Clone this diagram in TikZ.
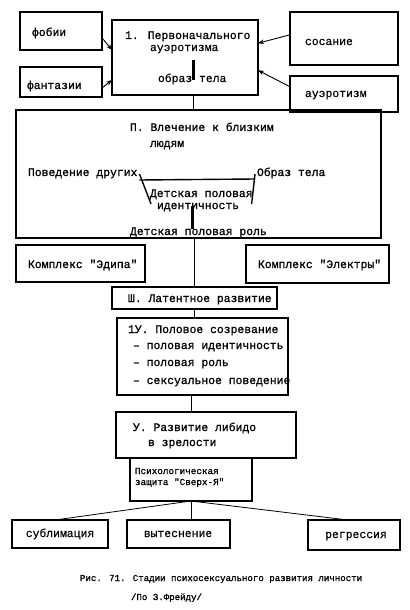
\documentclass[tikz,border=0pt]{standalone}
\usepackage{fontspec}
\newfontfamily\tw[FakeBold=1]{Liberation Mono}
\newfontfamily\twl[FakeBold=0.3]{Liberation Mono}
\usetikzlibrary{calc,arrows.meta}
\tikzset{
  box/.style={draw, line width=1.1bp, inner sep=0pt, outer sep=0pt},
  txt/.style={inner sep=0pt, outer sep=0pt, font=\tw\fontsize{11.4bp}{13bp}\selectfont},
  ltxt/.style={inner sep=0pt, outer sep=0pt, font=\twl\fontsize{11.4bp}{13bp}\selectfont},
  stxt/.style={inner sep=0pt, outer sep=0pt, font=\tw\fontsize{9.3bp}{10bp}\selectfont},
  ctxt/.style={inner sep=0pt, outer sep=0pt, font=\tw\fontsize{9.1bp}{11bp}\selectfont},
  conn/.style={line width=0.8bp},
  arr/.style={line width=0.9bp, -{Stealth[length=6bp,width=4.5bp]}},
  bar/.style={line width=3bp},
  inner/.style={line width=1.4bp},
}
\newcommand{\boxat}[5]{\node[box, minimum width={(#4-#2)*1bp}, minimum height={(#5-#3)*1bp}] (#1) at ({(#2+#4)/2},{(#3+#5)/2}) {};}
\begin{document}
\begin{tikzpicture}[x=1bp,y=-1bp]
\useasboundingbox[fill=white] (0,0) rectangle (409,610);
% boxes
\boxat{fob}{20}{12}{102}{50}
\boxat{fan}{20}{67}{102}{97}
\boxat{bA}{112}{20}{258}{95}
\boxat{sos}{290}{12}{398}{65}
\boxat{aue}{290}{76}{398}{112}
\boxat{bB}{16}{110}{381}{238}
\boxat{edi}{16}{245}{145}{282}
\boxat{ele}{246}{245}{389}{283}
\boxat{bC}{112}{287}{277}{309}
\boxat{bD}{117}{318}{288}{395}
\boxat{bE}{116}{412}{296}{458}
\boxat{psy}{130}{458}{252}{501}
\boxat{sub}{12}{520}{108}{548}
\boxat{vyt}{127}{520}{230}{548}
\boxat{reg}{308}{520}{400}{550}
% texts
\node[txt, anchor=base west] (tfob) at (32,36) {фобии};
\node[txt, anchor=base west] (tfan) at (27,89) {фантазии};
\node[ltxt, anchor=base west] (tsos) at (305,45) {сосание};
\node[ltxt, anchor=base west] (taue) at (305,97) {ауэротизм};
\node[txt, anchor=base west] (tA1) at (125,39) {1. Первоначального};
\node[ltxt, anchor=base west] (tA2) at (150,51) {ауэротизма};
\node[ltxt, anchor=base west] (tA3) at (158,82) {образ тела};
\node[txt, anchor=base west] (tB1) at (130,131) {П. Влечение к близким};
\node[txt, anchor=base west] (tB2) at (150,147) {людям};
\node[txt, anchor=base west] (pov) at (28,176) {Поведение других};
\node[txt, anchor=base west] (obr) at (257,176) {Образ тела};
\node[txt, anchor=base west] (det1) at (150,197) {Детская половая};
\node[txt, anchor=base west] (det2) at (157,209) {идентичность};
\node[txt, anchor=base west] (det3) at (130,235) {Детская половая роль};
\node[txt, anchor=base west] (tedi) at (28,268) {Комплекс "Эдипа"};
\node[txt, anchor=base west] (tele) at (258,268) {Комплекс "Электры"};
\node[txt, anchor=base west] (tC) at (128,302) {Ш. Латентное развитие};
\node[txt, anchor=base west] (tD1) at (128,333) {1У. Половое созревание};
\node[txt, anchor=base west] (tD2) at (133,349) {– половая идентичность};
\node[txt, anchor=base west] (tD3) at (133,366) {– половая роль};
\node[txt, anchor=base west] (tD4) at (133,384) {– сексуальное поведение};
\node[txt, anchor=base west] (tE1) at (133,431) {У. Развитие либидо};
\node[txt, anchor=base west] (tE2) at (148,446) {в зрелости};
\node[stxt, anchor=base west] (tP1) at (135,474) {Психологическая};
\node[stxt, anchor=base west] (tP2) at (135,485) {защита "Сверх-Я"};
\node[ltxt, anchor=base] (tsub) at (60,537) {сублимация};
\node[ltxt, anchor=base] (tvyt) at (178,537) {вытеснение};
\node[ltxt, anchor=base] (treg) at (356,538) {регрессия};
\node[ctxt, anchor=base west] (cap1) at (80,581) {Рис. 71. Стадии психосексуального развития личности};
\node[ctxt, anchor=base west] (cap2) at (131,600) {/По З.Фрейду/};
% arrows into box 1
\draw[arr] ($(fob.north east)!0.68!(fob.south east)$) -- ($(bA.north west)!0.4!(bA.south west)$);
\draw[arr] ($(fan.north east)!0.7!(fan.south east)$) -- ($(bA.north west)!0.8!(bA.south west)$);
\draw[arr] ($(sos.north west)!0.43!(sos.south west)$) -- ($(bA.north east)!0.31!(bA.south east)$);
\draw[arr] ($(aue.north west)!0.3!(aue.south west)$) -- ($(bA.north east)!0.67!(bA.south east)$);
% bars
\coordinate (barA1) at (193,60);
\coordinate (barA2) at (193,80);
\draw[bar] (barA1) -- (barA2);
\coordinate (barB1) at (192,206);
\coordinate (barB2) at (192,229);
\draw[bar] (barB1) -- (barB2);
% inner lines in box 2
\draw[inner] ([xshift=2bp,yshift=-4bp]pov.base east) -- ([xshift=-2bp,yshift=-3bp]obr.base west);
\draw[inner] ([xshift=2bp,yshift=2bp]pov.base east) -- ([xshift=1bp,yshift=-7bp]det1.base west);
\draw[inner] ([xshift=-2bp,yshift=2bp]obr.base west) -- ([xshift=-1bp,yshift=-7bp]det1.base east);
% vertical chain
\coordinate (topA) at (193,95);
\draw[conn] (topA) -- (topA |- bB.north);
\draw[conn] (bC.north |- bB.south) -- (bC.north);
\draw[conn] (bC.south) -- (bC.south |- bD.north);
\draw[conn] (psy.north |- bD.south) -- (psy.north |- bE.north);
% fan-out to defences
\draw[conn] (psy.south) -- ([xshift=-5bp]sub.north);
\draw[conn] (psy.south) -- (psy.south |- vyt.north);
\draw[conn] (psy.south) -- ([xshift=-6bp]reg.north);
\end{tikzpicture}
\end{document}
